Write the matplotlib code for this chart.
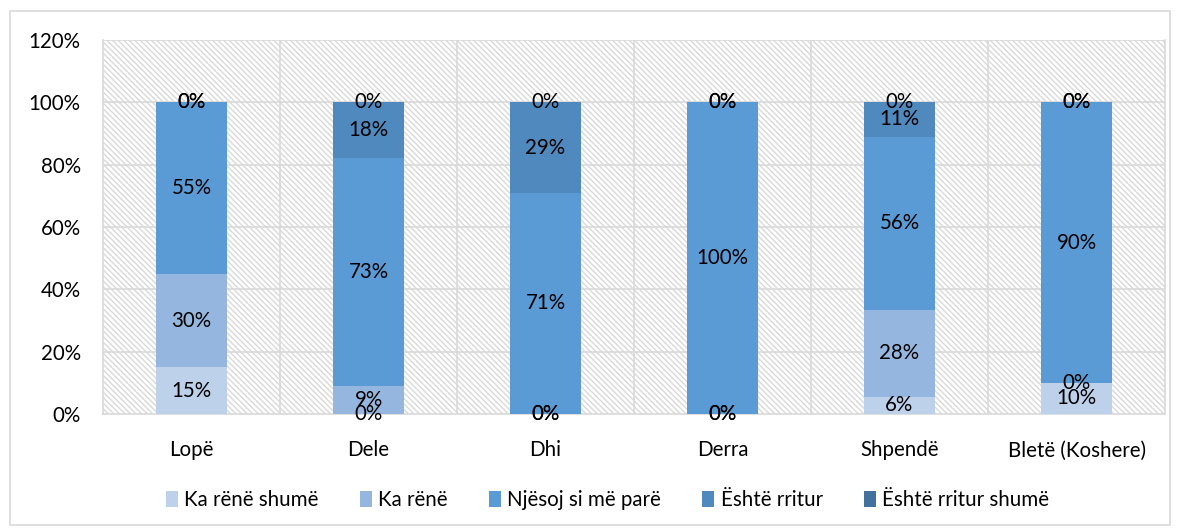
import numpy as np
import matplotlib.pyplot as plt
from matplotlib.patches import Rectangle
from matplotlib.ticker import PercentFormatter

plt.rcParams['font.family'] = ['Lato', 'DejaVu Sans']
plt.rcParams['hatch.color'] = '#D9D9D9'
plt.rcParams['hatch.linewidth'] = 1.0

# data
categories = ['Lopë', 'Dele', 'Dhi', 'Derra', 'Shpendë', 'Bletë (Koshere)']
series_names = ['Ka rënë shumë', 'Ka rënë', 'Njësoj si më parë', 'Është rritur', 'Është rritur shumë']
ka_rene_shume = [0.15, 0.00, 0.00, 0.00, 0.056, 0.10]
ka_rene = [0.30, 0.09, 0.00, 0.00, 0.278, 0.00]
njesoj = [0.55, 0.73, 0.71, 1.00, 0.556, 0.90]
eshte_rritur = [0.00, 0.18, 0.29, 0.00, 0.111, 0.00]
eshte_rritur_shume = [0.00, 0.00, 0.00, 0.00, 0.00, 0.00]
colors = ['#BDD1EA', '#95B7DF', '#5B9BD5', '#4F89BE', '#41719C']

series = [ka_rene_shume, ka_rene, njesoj, eshte_rritur, eshte_rritur_shume]
fs = 14.8

fig = plt.figure(figsize=(11.79, 5.30), dpi=100)
ax = fig.add_axes([103 / 1179, 1 - 414 / 530, 1062 / 1179, 374 / 530])

# outer chart border
fig.patches.append(Rectangle((10 / 1179, 5 / 530), 1160 / 1179, 514 / 530,
                             transform=fig.transFigure, fill=False,
                             edgecolor='#D9D9D9', linewidth=1.2))

# hatched plot area
ax.add_patch(Rectangle((-0.5, 0), len(categories), 1.2, facecolor='white',
                       hatch='\\\\\\\\\\\\', edgecolor='#D9D9D9', linewidth=0, zorder=0))

x = np.arange(len(categories))
bottom = np.zeros(len(categories))
for vals, name, c in zip(series, series_names, colors):
    vals = np.array(vals)
    ax.bar(x, vals, 0.4, bottom=bottom, color=c, label=name, zorder=3)
    for xi, b, v in zip(x, bottom, vals):
        ax.text(xi, b + v / 2, f'{v * 100:.0f}%', ha='center', va='center',
                fontsize=fs, color='black', zorder=4)
    bottom += vals

ax.set_xlim(-0.5, len(categories) - 0.5)
ax.set_ylim(0, 1.2)
ax.set_yticks(np.arange(0, 1.21, 0.2))
ax.yaxis.set_major_formatter(PercentFormatter(1.0, decimals=0))
ax.set_xticks(x)
ax.set_xticklabels(categories)
ax.tick_params(length=0, labelsize=fs, colors='black')
ax.tick_params(axis='x', pad=19)
ax.tick_params(axis='y', pad=16)

# grid
for yv in np.arange(0.2, 1.21, 0.2):
    ax.axhline(yv, color='#D9D9D9', linewidth=1.2, zorder=1)
for xv in np.arange(0.5, len(categories) - 0.5, 1):
    ax.axvline(xv, color='#D9D9D9', linewidth=1.2, zorder=1)
for s in ax.spines.values():
    s.set_color('#D9D9D9')
    s.set_linewidth(1.2)
ax.spines['top'].set_visible(False)

ax.legend(loc='center', bbox_to_anchor=(0.475, -0.23), ncol=5, frameon=False,
          fontsize=fs, handlelength=0.6, handleheight=0.8, handletextpad=0.3,
          columnspacing=2.0)

fig.savefig('out.png', dpi=100)
